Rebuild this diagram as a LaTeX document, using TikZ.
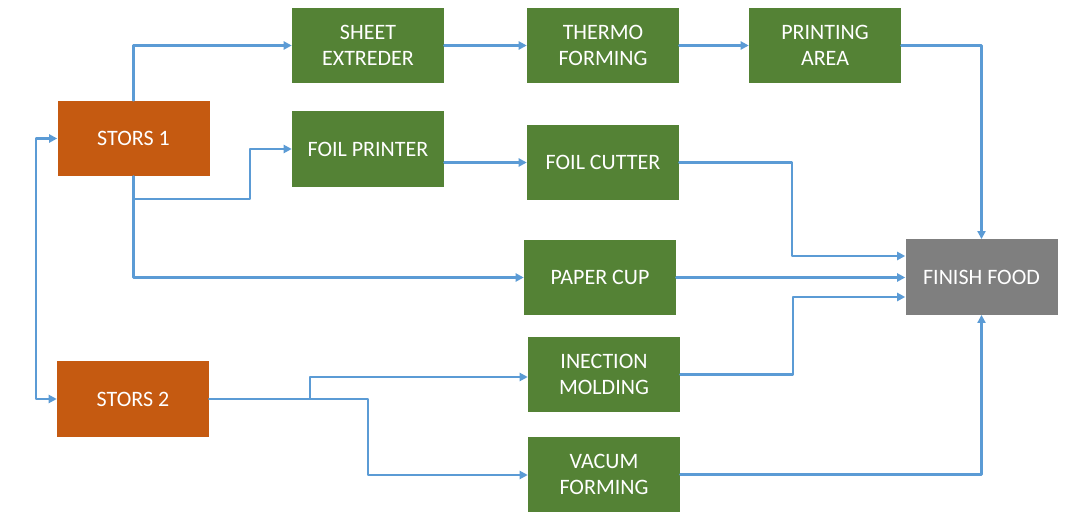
\documentclass[tikz,border=0pt]{standalone}
\usepackage{fontspec}
\setmainfont{Carlito}
\usetikzlibrary{arrows.meta}
\definecolor{storcol}{RGB}{197,90,17}
\definecolor{proccol}{RGB}{84,130,53}
\definecolor{finishcol}{RGB}{127,127,127}
\definecolor{linkcol}{RGB}{91,155,213}
\begin{document}
\begin{tikzpicture}[line cap=round,line join=round,x=0.75pt,y=-0.75pt,
	box/.style={rectangle,inner sep=0pt,minimum width=114pt,minimum height=56.5pt,text=white,align=center,font=\fontsize{16.5}{19.5}\selectfont},
	stor/.style={box,fill=storcol},
	proc/.style={box,fill=proccol},
	finish/.style={box,fill=finishcol},
	link/.style={draw=linkcol,line width=1.6pt,-{Triangle[length=6pt,width=6pt]}},
	twoway/.style={link,{Triangle[length=6pt,width=6pt]}-{Triangle[length=6pt,width=6pt]}}]
		\useasboundingbox (0,0) rectangle (1092,523);
		\node [stor] (stors1) at (133.5,138.5) {STORS 1};
		\node [stor] (stors2) at (133,399) {STORS 2};
		\node [proc] (sheet) at (368,45.5) {SHEET\\EXTREDER};
		\node [proc] (thermo) at (603,45.5) {THERMO\\FORMING};
		\node [proc] (printing) at (825,45.5) {PRINTING\\AREA};
		\node [proc] (foilp) at (368,149) {FOIL PRINTER};
		\node [proc] (foilc) at (603,162.5) {FOIL CUTTER};
		\node [proc] (cup) at (600,277.5) {PAPER CUP};
		\node [finish] (food) at (981.5,277) {FINISH FOOD};
		\node [proc] (inject) at (604,374.5) {INECTION\\MOLDING};
		\node [proc] (vacum) at (604,474.5) {VACUM\\FORMING};
		\coordinate (s1a) at (250,199);
		\coordinate (f1) at (792,256);
		\coordinate (f2) at (793,297);
		\coordinate (s2a) at (310,377);
		\coordinate (s2b) at (368,475);
		\draw [link] (stors1.north) |- (sheet.west);
		\draw [link] (sheet) -- (thermo);
		\draw [link] (thermo) -- (printing);
		\draw [link] (printing.east) -| (food.north);
		\draw [link] (stors1.south) |- (s1a) |- (foilp.west);
		\draw [link] (stors1.south) |- (cup.west);
		\draw [link] (foilp.east |- foilc.west) -- (foilc.west);
		\draw [link] (foilc.east) -| (f1) -- (food.west |- f1);
		\draw [link] (cup.east) -- (food.west |- cup.east);
		\draw [link] (inject.east) -| (f2) -- (food.west |- f2);
		\draw [link] (vacum.east) -| (food.south);
		\draw [twoway] (stors1.west) -- ++(-21,0) |- (stors2.west);
		\draw [link] (stors2.east) -| (s2a) -- (inject.west |- s2a);
		\draw [link] (stors2.east) -| (s2b) -- (vacum.west |- s2b);
\end{tikzpicture}
\end{document}
